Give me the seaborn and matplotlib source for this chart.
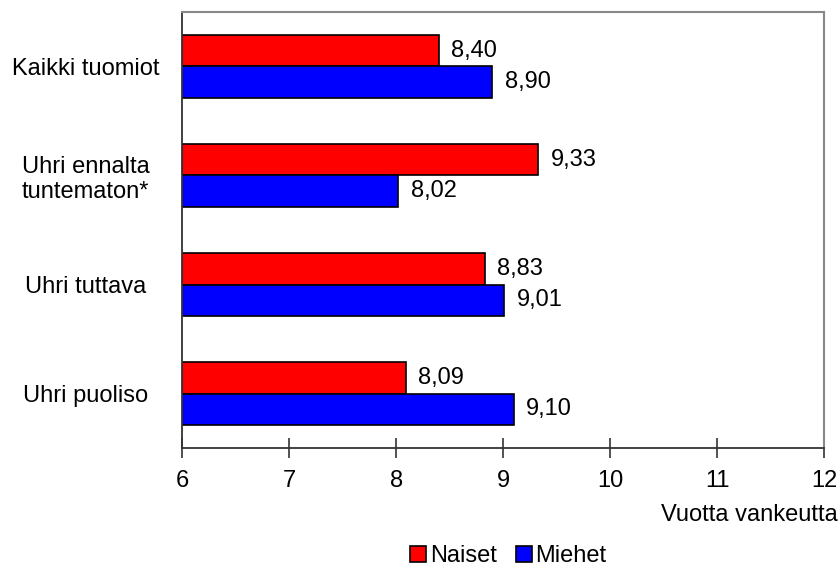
import pandas as pd
import seaborn as sns
import matplotlib.pyplot as plt
from matplotlib.patches import Patch

categories = ['Kaikki tuomiot', 'Uhri ennalta\ntuntematon*', 'Uhri tuttava', 'Uhri puoliso']
naiset = [8.40, 9.33, 8.83, 8.09]
miehet = [8.90, 8.02, 9.01, 9.10]
series = ['Naiset', 'Miehet']
colors = ['#ff0000', '#0000ff']

df = pd.DataFrame({
    'ryhma': categories * 2,
    'sukupuoli': ['Naiset'] * 4 + ['Miehet'] * 4,
    'vuotta': naiset + miehet,
})

sns.set_style('white')
plt.rcParams['font.family'] = ['Liberation Sans', 'DejaVu Sans']
plt.rcParams['text.color'] = 'black'
plt.rcParams['xtick.color'] = 'black'
plt.rcParams['ytick.color'] = 'black'

fig = plt.figure(figsize=(8.4, 5.7), dpi=100)
ax = fig.add_axes([0.217, 0.214, 0.764, 0.765])

sns.barplot(data=df, y='ryhma', x='vuotta', hue='sukupuoli', hue_order=series,
            palette=colors, saturation=1, orient='h', width=0.57,
            edgecolor='black', linewidth=1.2, legend=False, ax=ax)

# bars start at 6, so shift them
for patch in ax.patches:
    w = patch.get_width()
    patch.set_x(6)
    patch.set_width(w - 6)

for cont in ax.containers:
    labels = [f'{6 + p.get_width():.2f}'.replace('.', ',') for p in cont]
    ax.bar_label(cont, labels=labels, padding=9, fontsize=17, color='black')

ax.set_xlim(6, 12)
ax.set_xticks(range(6, 13))
ax.set_ylim(3.5, -0.5)
ax.set_xlabel('')
ax.set_ylabel('')
ax.tick_params(axis='x', bottom=True, labelsize=17, direction='inout', length=14,
               width=1.2, pad=9, color='#333333')
ax.tick_params(axis='y', left=False, labelsize=17, pad=12)
for lbl in ax.get_yticklabels():
    lbl.set_horizontalalignment('center')
    lbl.set_x(-0.117)

for side in ['left', 'bottom']:
    ax.spines[side].set_color('#333333')
    ax.spines[side].set_linewidth(1.3)
for side in ['top', 'right']:
    ax.spines[side].set_color('#888888')
    ax.spines[side].set_linewidth(1.5)

fig.text(0.997, 0.0965, 'Vuotta vankeutta', ha='right', va='center', fontsize=17)

handles = [Patch(facecolor=c, edgecolor='black', linewidth=1.2) for c in colors]
fig.legend(handles, series, loc='center', bbox_to_anchor=(0.605, 0.024), ncol=2,
           frameon=False, fontsize=17, handlelength=0.7, handleheight=0.7,
           handletextpad=0.15, columnspacing=0.8)

fig.savefig('out.png', dpi=100)
